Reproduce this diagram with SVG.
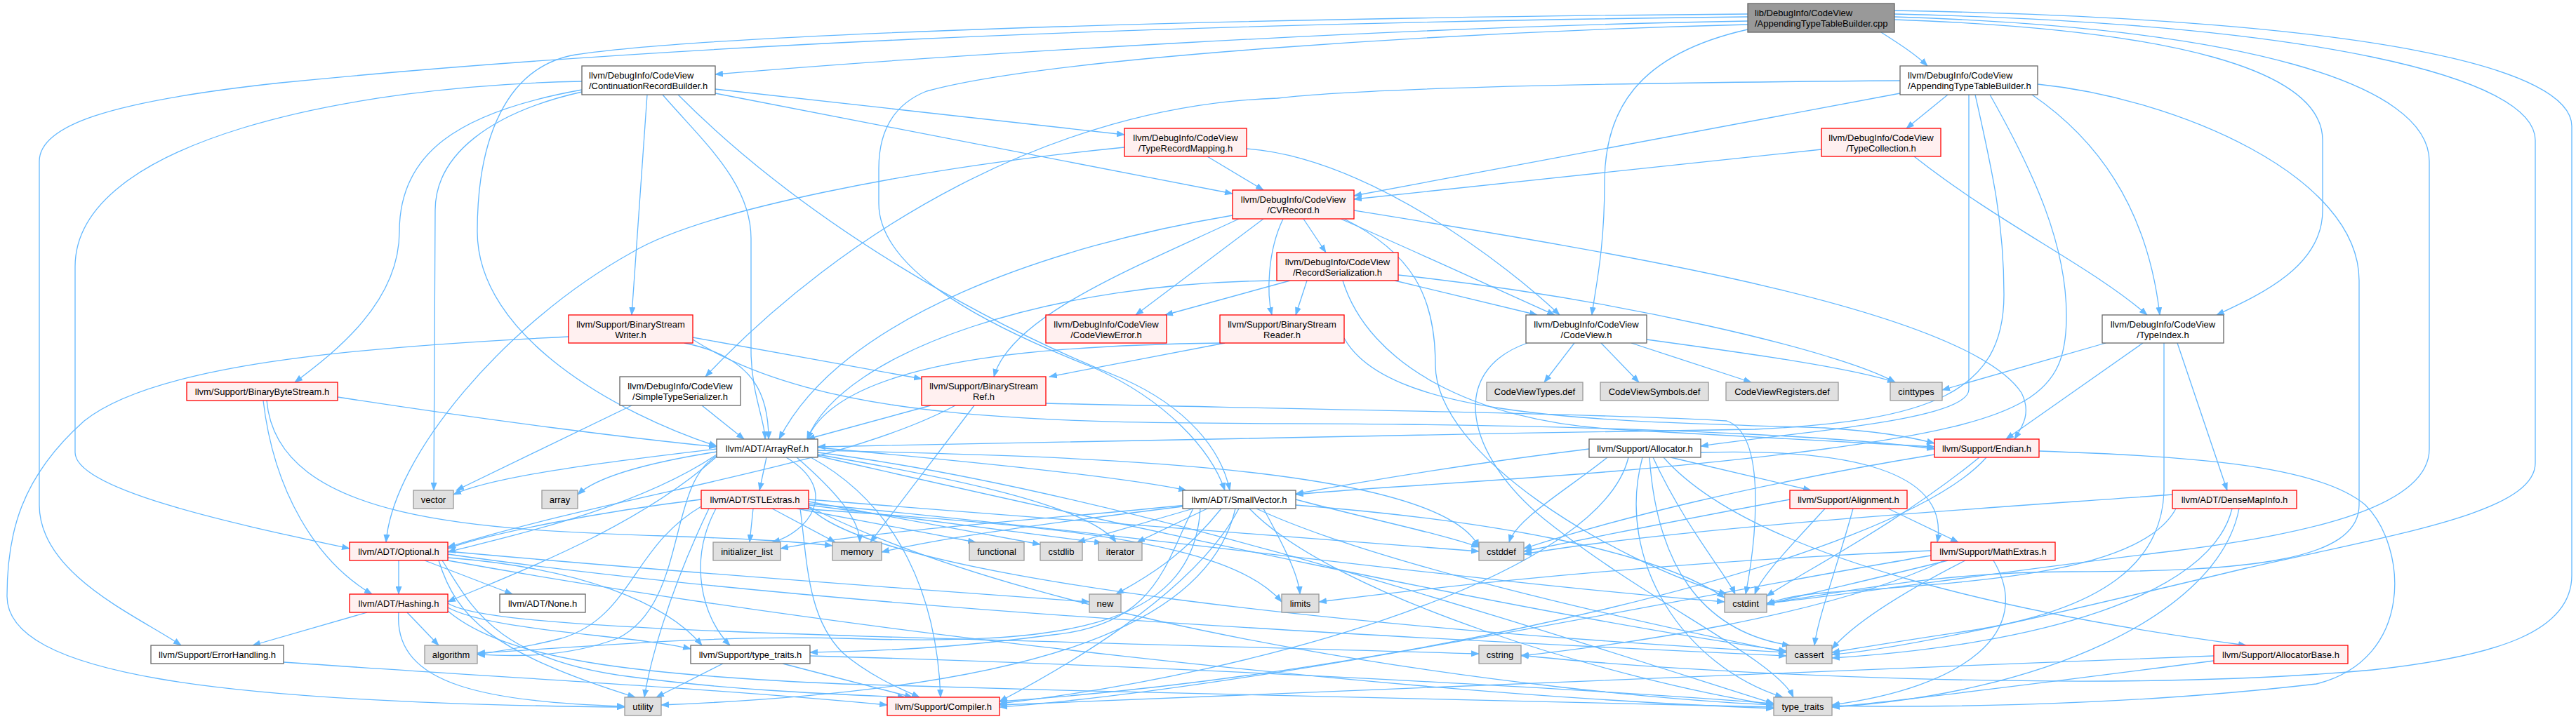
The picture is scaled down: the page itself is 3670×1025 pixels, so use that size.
<svg xmlns="http://www.w3.org/2000/svg" width="3670" height="1025" viewBox="0 0 3670 1025">
<defs>
<style>
.w rect{fill:#fff;stroke:#666;stroke-width:1.3}
.g rect{fill:#e0e0e0;stroke:#999;stroke-width:1.3}
.r rect{fill:#fff0f0;stroke:#f00;stroke-width:1.3}
.c rect{fill:#999;stroke:#666;stroke-width:1.3}
text{font-family:"Liberation Sans",Arial,Helvetica,sans-serif;font-size:13px;fill:#000}
.m{text-anchor:middle}
#edges path{fill:none;stroke:#63b8ff;stroke-width:1.3;marker-end:url(#ah)}
</style>
<marker id="ah" markerUnits="userSpaceOnUse" markerWidth="12" markerHeight="9" refX="11" refY="4.5" orient="auto"><path d="M0,0L12,4.5L0,9z" fill="#63b8ff"/></marker>
</defs>
<rect width="3670" height="1025" fill="#fff"/>
<g id="edges">
<path d="M2680,46 C2705,62 2730,78 2746,94"/>
<path d="M2490,30 C2000,38 1350,78 1019,106"/>
<path d="M2490,42 C2330,78 2286,160 2286,260 C2286,360 2272,415 2268,449"/>
<path d="M2699,28 C3100,42 3309,100 3309,200 L3309,300 C3309,380 3220,420 3158,449"/>
<path d="M2490,24 C1600,34 900,68 400,118 C150,145 56,180 56,230 L56,720 C56,820 200,880 258,920"/>
<path d="M2490,20 C1700,26 1000,50 820,78 C720,95 680,200 680,330 C680,480 880,590 1021,636"/>
<path d="M2490,35 C2100,45 1500,80 1320,130 C1270,150 1252,190 1252,240 L1252,290 C1252,390 1420,470 1560,525 C1660,570 1725,640 1745,699"/>
<path d="M2699,24 C3200,40 3461,120 3461,230 L3461,640 C3461,720 3300,760 3100,785 C2850,815 2620,850 2517,860"/>
<path d="M2699,20 C3300,34 3612,110 3612,200 L3612,660 C3612,730 3420,760 3200,810 C2950,870 2720,925 2610,933"/>
<path d="M2699,15 C3400,28 3664,100 3664,180 L3664,820 C3664,900 3560,935 3380,955 C3000,990 2400,960 2167,934"/>
<path d="M1019,127 L1602,192"/>
<path d="M1019,133 L1756,276"/>
<path d="M922,135 L900,449"/>
<path d="M829,128 C650,160 569,220 569,330 C569,430 480,500 420,545"/>
<path d="M829,131 C700,160 620,220 620,300 L618,699"/>
<path d="M829,116 C500,122 107,200 107,380 L107,645 C107,700 350,750 498,782"/>
<path d="M966,135 C1150,320 1400,460 1600,540 C1690,580 1740,640 1752,699"/>
<path d="M944,135 C1000,200 1070,260 1070,340 L1070,500 C1070,560 1090,600 1090,626"/>
<path d="M2775,135 L2716,183"/>
<path d="M2707,133 L1929,279"/>
<path d="M2707,115 C2300,118 1950,125 1820,140 C1500,150 1200,330 1005,537"/>
<path d="M2895,135 C2990,200 3060,300 3077,449"/>
<path d="M2805,135 L2805,555 C2805,600 2560,615 2423,636"/>
<path d="M2814,135 C2840,250 2855,320 2855,420 C2855,560 2750,600 2500,612 C2000,620 1400,630 1165,637"/>
<path d="M2835,135 C2900,250 2944,350 2944,450 C2944,560 2900,600 2600,640 C2300,680 2000,690 1846,705"/>
<path d="M2903,120 C3100,140 3361,250 3361,400 L3361,720 C3361,800 3200,815 2950,815 C2750,815 2600,850 2517,860"/>
<path d="M1720,223 L1800,271"/>
<path d="M1776,212 C1950,225 2150,380 2222,449"/>
<path d="M1602,210 C1300,240 1000,300 900,360 C720,460 560,650 550,773"/>
<path d="M2595,213 L1929,284"/>
<path d="M2727,223 C2850,320 2980,380 3059,449"/>
<path d="M1857,312 L1889,360"/>
<path d="M1828,312 C1805,360 1805,420 1812,449"/>
<path d="M1800,312 L1618,449"/>
<path d="M1910,312 C2020,360 2150,420 2215,449"/>
<path d="M1756,307 C1500,350 1200,450 1110,626"/>
<path d="M1765,312 C1620,380 1440,450 1416,537"/>
<path d="M1929,300 C2300,360 2800,440 2880,560 C2895,590 2880,610 2870,626"/>
<path d="M1915,312 C2010,360 2045,420 2045,520 C2045,650 2300,800 2460,847"/>
<path d="M1862,400 L1846,449"/>
<path d="M1838,400 L1660,449"/>
<path d="M1987,400 L2190,449"/>
<path d="M1992,392 C2300,425 2620,500 2700,545"/>
<path d="M1830,400 C1500,400 1200,500 1150,626"/>
<path d="M1913,400 C1950,520 2100,600 2300,612 C2500,622 2650,630 2756,637"/>
<path d="M975,489 C1080,510 1095,570 1095,626"/>
<path d="M987,481 L1313,540"/>
<path d="M987,484 C1200,620 1600,600 2000,605 C2400,610 2650,625 2756,640"/>
<path d="M810,480 C500,495 220,520 120,600 C30,680 10,760 10,850 C10,960 300,1002 890,1008"/>
<path d="M1740,489 C1500,492 1200,510 1150,626"/>
<path d="M1745,489 L1495,537"/>
<path d="M1915,482 C1980,600 2300,600 2600,610 C2680,615 2730,625 2756,632"/>
<path d="M2243,489 L2200,545"/>
<path d="M2281,489 L2335,545"/>
<path d="M2324,489 L2495,545"/>
<path d="M2346,484 C2500,505 2640,525 2700,545"/>
<path d="M2176,489 C2060,530 2090,650 2200,740 C2350,860 2530,940 2555,994"/>
<path d="M3000,489 L2767,556"/>
<path d="M3053,489 L2858,626"/>
<path d="M3102,489 L3173,699"/>
<path d="M3083,489 L3083,700 C3080,800 3000,870 2800,900 C2700,915 2640,925 2610,930"/>
<path d="M481,566 C700,600 900,625 1021,637"/>
<path d="M375,571 C390,700 450,800 530,847"/>
<path d="M380,571 C400,800 900,745 1186,778"/>
<path d="M1000,578 L1060,626"/>
<path d="M900,578 L650,699"/>
<path d="M1326,578 L1150,626"/>
<path d="M1388,578 L1240,773"/>
<path d="M1361,578 C1200,665 900,700 638,780"/>
<path d="M1490,575 C1800,582 2300,590 2460,600 C2520,620 2500,780 2487,847"/>
<path d="M1092,652 L1082,699"/>
<path d="M1120,652 C1200,700 1150,760 1100,773"/>
<path d="M1135,652 C1190,700 1225,740 1225,773"/>
<path d="M1165,648 C1350,680 1550,720 1590,773"/>
<path d="M1165,642 C1500,650 2050,660 2107,780"/>
<path d="M1021,640 C850,660 700,680 646,705"/>
<path d="M1021,644 C920,660 850,680 823,705"/>
<path d="M1021,648 C900,730 700,770 638,787"/>
<path d="M1021,651 C900,760 700,830 638,858"/>
<path d="M1021,650 C950,690 980,860 880,910 C800,940 720,935 680,933"/>
<path d="M1155,652 C1280,720 1335,850 1340,994"/>
<path d="M1165,645 C1600,700 2200,900 2527,1003"/>
<path d="M1165,638 C1400,660 1600,680 1690,699"/>
<path d="M1165,650 C1600,750 2200,880 2545,928"/>
<path d="M999,712 C850,730 700,760 638,782"/>
<path d="M1073,725 L1068,773"/>
<path d="M1100,725 L1190,773"/>
<path d="M1135,725 L1390,773"/>
<path d="M1152,715 L1482,776"/>
<path d="M1152,720 L1570,774"/>
<path d="M1020,725 C980,800 1000,880 1040,920"/>
<path d="M1010,725 C950,850 925,950 918,994"/>
<path d="M1140,725 C1150,800 1150,880 1200,930 C1240,965 1290,985 1310,994"/>
<path d="M999,722 C900,780 900,880 800,910 C740,925 700,930 680,933"/>
<path d="M1152,722 C1250,830 2000,900 2545,930"/>
<path d="M1152,718 C1600,760 2100,830 2457,858"/>
<path d="M1140,725 C1500,750 1750,770 1826,858"/>
<path d="M1152,712 C1500,740 1900,770 2107,786"/>
<path d="M1152,722 C1500,900 2200,990 2527,1005"/>
<path d="M1765,725 C1700,850 1500,960 1424,1000"/>
<path d="M1700,725 C1660,800 1650,890 1500,905 C1350,925 1250,928 1154,930"/>
<path d="M1710,725 C1700,900 1500,920 1200,910 C1000,905 800,925 680,931"/>
<path d="M1790,725 C1950,800 2300,880 2545,930"/>
<path d="M1846,712 C1950,740 2050,760 2107,780"/>
<path d="M1700,725 L1535,773"/>
<path d="M1690,720 C1500,740 1250,755 1112,782"/>
<path d="M1720,725 L1620,773"/>
<path d="M1800,725 C1830,780 1850,820 1852,847"/>
<path d="M1685,722 C1500,745 1350,765 1256,787"/>
<path d="M1740,725 C1680,800 1620,830 1590,847"/>
<path d="M1780,725 C1900,850 2300,970 2527,1005"/>
<path d="M1760,725 C1720,900 1450,985 942,1005"/>
<path d="M1846,720 C2100,740 2350,780 2457,852"/>
<path d="M2690,725 L2790,773"/>
<path d="M2640,725 C2620,800 2590,880 2585,920"/>
<path d="M2550,712 C2400,740 2250,770 2171,786"/>
<path d="M2600,725 C2550,780 2510,820 2500,847"/>
<path d="M3095,705 C2900,720 2400,750 2171,790"/>
<path d="M3100,725 C3050,820 2800,830 2600,845 C2560,848 2530,855 2517,862"/>
<path d="M3180,725 C3150,850 2900,920 2610,938"/>
<path d="M3190,725 C3160,880 2900,990 2610,1008"/>
<path d="M2751,792 C2400,850 1800,980 1424,1008"/>
<path d="M2800,799 C2700,850 2640,890 2610,925"/>
<path d="M2775,799 C2650,830 2560,850 2517,862"/>
<path d="M2770,799 C2600,880 2300,920 2167,935"/>
<path d="M2751,785 C2400,800 2100,830 1879,858"/>
<path d="M2840,799 C2900,900 2800,980 2610,1005"/>
<path d="M2830,652 C2700,800 2000,960 1424,1000"/>
<path d="M2756,648 C2500,690 2300,740 2171,782"/>
<path d="M2820,652 C2700,750 2560,820 2517,850"/>
<path d="M2905,643 C3100,650 3300,660 3370,720 C3430,780 3440,940 3300,975 C3000,1010 2700,1008 2610,1006"/>
<path d="M2264,640 C2100,660 1950,685 1846,704"/>
<path d="M2380,652 L2580,699"/>
<path d="M2290,652 C2230,700 2160,740 2150,773"/>
<path d="M2355,652 C2400,750 2460,820 2472,847"/>
<path d="M2350,652 C2360,800 2420,900 2550,920"/>
<path d="M2370,652 C2500,800 2900,880 3200,920"/>
<path d="M2423,645 C2600,640 2780,660 2760,773"/>
<path d="M2320,652 C2280,820 1800,960 1424,1003"/>
<path d="M2340,652 C2300,800 2400,950 2540,994"/>
<path d="M3154,935 C2500,960 1800,990 1424,1005"/>
<path d="M3154,942 C2900,975 2700,1000 2610,1008"/>
<path d="M568,799 L568,847"/>
<path d="M605,799 L730,847"/>
<path d="M638,795 C830,810 950,860 1000,920"/>
<path d="M630,799 C670,860 700,940 900,965 C1050,985 1200,990 1290,994"/>
<path d="M625,799 C650,880 700,930 905,994"/>
<path d="M638,790 C1200,870 2000,910 2545,935"/>
<path d="M638,786 C900,810 1300,840 1552,858"/>
<path d="M638,799 C1200,900 2000,990 2527,1010"/>
<path d="M523,873 L360,920"/>
<path d="M580,873 L625,920"/>
<path d="M568,873 C560,980 700,1000 890,1007"/>
<path d="M638,860 C700,900 1200,905 2107,932"/>
<path d="M638,866 C700,900 900,905 984,925"/>
<path d="M638,871 C720,940 900,962 1200,975 C1700,990 2300,1005 2527,1008"/>
<path d="M404,944 C700,965 1000,980 1264,1005"/>
<path d="M1030,946 L935,994"/>
<path d="M1115,946 L1300,994"/>
<path d="M1154,935 C1700,950 2300,985 2527,1003"/>
</g>
<g id="n-cpp" class="c"><rect x="2490" y="5" width="209" height="41"/><text x="2500" y="22.5">lib/DebugInfo/CodeView</text><text x="2500" y="37.5">/AppendingTypeTableBuilder.cpp</text></g>
<g id="n-crb" class="w"><rect x="829" y="94" width="190" height="41"/><text x="839" y="111.5">llvm/DebugInfo/CodeView</text><text x="839" y="126.5">/ContinuationRecordBuilder.h</text></g>
<g id="n-attb" class="w"><rect x="2707" y="94" width="196" height="41"/><text x="2718" y="111.5">llvm/DebugInfo/CodeView</text><text x="2718" y="126.5">/AppendingTypeTableBuilder.h</text></g>
<g id="n-trm" class="r"><rect x="1602" y="183" width="174" height="40"/><text class="m" x="1689" y="200.5">llvm/DebugInfo/CodeView</text><text class="m" x="1689" y="215.5">/TypeRecordMapping.h</text></g>
<g id="n-tc" class="r"><rect x="2595" y="183" width="170" height="40"/><text class="m" x="2680" y="200.5">llvm/DebugInfo/CodeView</text><text class="m" x="2680" y="215.5">/TypeCollection.h</text></g>
<g id="n-cvrecord" class="r"><rect x="1756" y="271" width="173" height="41"/><text class="m" x="1842.5" y="288.5">llvm/DebugInfo/CodeView</text><text class="m" x="1842.5" y="303.5">/CVRecord.h</text></g>
<g id="n-rs" class="r"><rect x="1819" y="360" width="173" height="40"/><text class="m" x="1905.5" y="377.5">llvm/DebugInfo/CodeView</text><text class="m" x="1905.5" y="392.5">/RecordSerialization.h</text></g>
<g id="n-bsw" class="r"><rect x="810" y="449" width="177" height="40"/><text class="m" x="898.5" y="466.5">llvm/Support/BinaryStream</text><text class="m" x="898.5" y="481.5">Writer.h</text></g>
<g id="n-cve" class="r"><rect x="1490" y="449" width="172" height="40"/><text class="m" x="1576" y="466.5">llvm/DebugInfo/CodeView</text><text class="m" x="1576" y="481.5">/CodeViewError.h</text></g>
<g id="n-bsr" class="r"><rect x="1738" y="449" width="177" height="40"/><text class="m" x="1826.5" y="466.5">llvm/Support/BinaryStream</text><text class="m" x="1826.5" y="481.5">Reader.h</text></g>
<g id="n-cv" class="w"><rect x="2174" y="449" width="172" height="40"/><text class="m" x="2260" y="466.5">llvm/DebugInfo/CodeView</text><text class="m" x="2260" y="481.5">/CodeView.h</text></g>
<g id="n-ti" class="w"><rect x="2995" y="449" width="173" height="40"/><text class="m" x="3081.5" y="466.5">llvm/DebugInfo/CodeView</text><text class="m" x="3081.5" y="481.5">/TypeIndex.h</text></g>
<g id="n-bbs" class="r"><rect x="266" y="545" width="215" height="26"/><text class="m" x="373.5" y="562.5">llvm/Support/BinaryByteStream.h</text></g>
<g id="n-sts" class="w"><rect x="883" y="537" width="172" height="41"/><text class="m" x="969" y="554.5">llvm/DebugInfo/CodeView</text><text class="m" x="969" y="569.5">/SimpleTypeSerializer.h</text></g>
<g id="n-bsref" class="r"><rect x="1313" y="537" width="177" height="41"/><text class="m" x="1401.5" y="554.5">llvm/Support/BinaryStream</text><text class="m" x="1401.5" y="569.5">Ref.h</text></g>
<g id="n-cvtypes" class="g"><rect x="2118" y="545" width="137" height="26"/><text class="m" x="2186.5" y="562.5">CodeViewTypes.def</text></g>
<g id="n-cvsymbols" class="g"><rect x="2280" y="545" width="154" height="26"/><text class="m" x="2357" y="562.5">CodeViewSymbols.def</text></g>
<g id="n-cvregisters" class="g"><rect x="2459" y="545" width="160" height="26"/><text class="m" x="2539" y="562.5">CodeViewRegisters.def</text></g>
<g id="n-cinttypes" class="g"><rect x="2693" y="545" width="74" height="26"/><text class="m" x="2730" y="562.5">cinttypes</text></g>
<g id="n-arrayref" class="w"><rect x="1021" y="626" width="144" height="26"/><text class="m" x="1093" y="643.5">llvm/ADT/ArrayRef.h</text></g>
<g id="n-allocator" class="w"><rect x="2264" y="626" width="159" height="26"/><text class="m" x="2343.5" y="643.5">llvm/Support/Allocator.h</text></g>
<g id="n-endian" class="r"><rect x="2756" y="626" width="149" height="26"/><text class="m" x="2830.5" y="643.5">llvm/Support/Endian.h</text></g>
<g id="n-vector" class="g"><rect x="589" y="699" width="57" height="26"/><text class="m" x="617.5" y="716.5">vector</text></g>
<g id="n-array" class="g"><rect x="772" y="699" width="51" height="26"/><text class="m" x="797.5" y="716.5">array</text></g>
<g id="n-stlextras" class="r"><rect x="999" y="699" width="153" height="26"/><text class="m" x="1075.5" y="716.5">llvm/ADT/STLExtras.h</text></g>
<g id="n-smallvector" class="w"><rect x="1685" y="699" width="161" height="26"/><text class="m" x="1765.5" y="716.5">llvm/ADT/SmallVector.h</text></g>
<g id="n-alignment" class="r"><rect x="2550" y="699" width="167" height="26"/><text class="m" x="2633.5" y="716.5">llvm/Support/Alignment.h</text></g>
<g id="n-densemapinfo" class="r"><rect x="3095" y="699" width="177" height="26"/><text class="m" x="3183.5" y="716.5">llvm/ADT/DenseMapInfo.h</text></g>
<g id="n-optional" class="r"><rect x="498" y="773" width="140" height="26"/><text class="m" x="568" y="790.5">llvm/ADT/Optional.h</text></g>
<g id="n-initlist" class="g"><rect x="1016" y="773" width="96" height="26"/><text class="m" x="1064" y="790.5">initializer_list</text></g>
<g id="n-memory" class="g"><rect x="1186" y="773" width="70" height="26"/><text class="m" x="1221" y="790.5">memory</text></g>
<g id="n-functional" class="g"><rect x="1381" y="773" width="78" height="26"/><text class="m" x="1420" y="790.5">functional</text></g>
<g id="n-cstdlib" class="g"><rect x="1482" y="773" width="60" height="26"/><text class="m" x="1512" y="790.5">cstdlib</text></g>
<g id="n-iterator" class="g"><rect x="1565" y="773" width="62" height="26"/><text class="m" x="1596" y="790.5">iterator</text></g>
<g id="n-cstddef" class="g"><rect x="2107" y="773" width="64" height="26"/><text class="m" x="2139" y="790.5">cstddef</text></g>
<g id="n-mathextras" class="r"><rect x="2751" y="773" width="177" height="26"/><text class="m" x="2839.5" y="790.5">llvm/Support/MathExtras.h</text></g>
<g id="n-hashing" class="r"><rect x="498" y="847" width="140" height="26"/><text class="m" x="568" y="864.5">llvm/ADT/Hashing.h</text></g>
<g id="n-none" class="w"><rect x="712" y="847" width="122" height="26"/><text class="m" x="773" y="864.5">llvm/ADT/None.h</text></g>
<g id="n-new" class="g"><rect x="1552" y="847" width="45" height="26"/><text class="m" x="1574.5" y="864.5">new</text></g>
<g id="n-limits" class="g"><rect x="1826" y="847" width="53" height="26"/><text class="m" x="1852.5" y="864.5">limits</text></g>
<g id="n-cstdint" class="g"><rect x="2457" y="847" width="60" height="26"/><text class="m" x="2487" y="864.5">cstdint</text></g>
<g id="n-errorhandling" class="w"><rect x="215" y="920" width="189" height="26"/><text class="m" x="309.5" y="937.5">llvm/Support/ErrorHandling.h</text></g>
<g id="n-algorithm" class="g"><rect x="605" y="920" width="75" height="26"/><text class="m" x="642.5" y="937.5">algorithm</text></g>
<g id="n-typetraitsh" class="w"><rect x="984" y="920" width="170" height="26"/><text class="m" x="1069" y="937.5">llvm/Support/type_traits.h</text></g>
<g id="n-cstring" class="g"><rect x="2107" y="920" width="60" height="26"/><text class="m" x="2137" y="937.5">cstring</text></g>
<g id="n-cassert" class="g"><rect x="2545" y="920" width="65" height="26"/><text class="m" x="2577.5" y="937.5">cassert</text></g>
<g id="n-allocatorbase" class="r"><rect x="3154" y="920" width="191" height="26"/><text class="m" x="3249.5" y="937.5">llvm/Support/AllocatorBase.h</text></g>
<g id="n-utility" class="g"><rect x="890" y="994" width="52" height="26"/><text class="m" x="916" y="1011.5">utility</text></g>
<g id="n-compiler" class="r"><rect x="1264" y="994" width="160" height="26"/><text class="m" x="1344" y="1011.5">llvm/Support/Compiler.h</text></g>
<g id="n-typetraits" class="g"><rect x="2527" y="994" width="83" height="26"/><text class="m" x="2568.5" y="1011.5">type_traits</text></g>
</svg>
